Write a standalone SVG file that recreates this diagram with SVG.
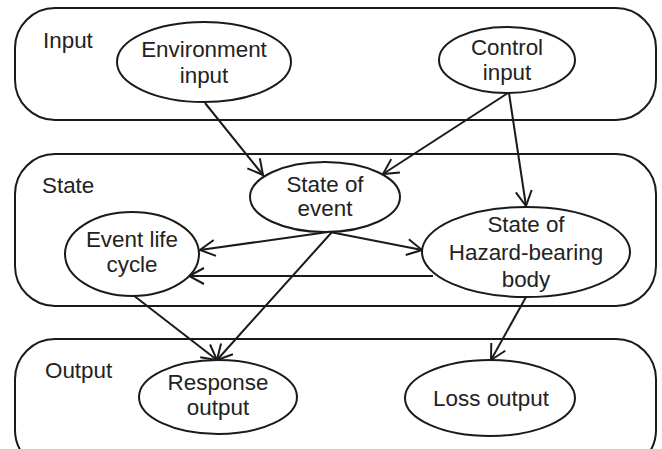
<svg xmlns="http://www.w3.org/2000/svg" width="662" height="449" viewBox="0 0 662 449">
<defs>
<style>
.box{fill:none;stroke:#1a1a1a;stroke-width:2}
.node{fill:#fff;stroke:#1a1a1a;stroke-width:2}
.t{font-family:"Liberation Sans",Arial,sans-serif;font-size:22.4px;fill:#222}
.c{text-anchor:middle}
.e{fill:none;stroke:#1a1a1a;stroke-width:2;marker-end:url(#arr)}
</style>
<marker id="arr" markerUnits="userSpaceOnUse" viewBox="-16 -9 18 18" markerWidth="18" markerHeight="18" refX="0" refY="0" orient="auto">
<path d="M-15,-8 L0,0 L-15,8" fill="none" stroke="#1a1a1a" stroke-width="2"/>
</marker>
</defs>
<rect width="662" height="449" fill="#fff"/>
<g id="input-group">
<rect class="box" x="15" y="8" width="641" height="112" rx="40" ry="40"/>
<text class="t" x="43" y="48">Input</text>
</g>
<g id="state-group">
<rect class="box" x="15" y="154" width="641" height="152" rx="40" ry="40"/>
<text class="t" x="42" y="193">State</text>
</g>
<g id="output-group">
<rect class="box" x="15" y="339" width="641" height="131" rx="40" ry="40"/>
<text class="t" x="45" y="378">Output</text>
</g>
<g id="connectors">
<line class="e" x1="205" y1="103" x2="263" y2="175"/>
<line class="e" x1="508" y1="93" x2="383" y2="174"/>
<line class="e" x1="509" y1="93" x2="526" y2="206"/>
<line class="e" x1="328" y1="232" x2="200" y2="250"/>
<line class="e" x1="330" y1="232" x2="422" y2="250"/>
<line class="e" x1="433" y1="276" x2="189" y2="276"/>
<line class="e" x1="332" y1="232" x2="217" y2="360"/>
<line class="e" x1="133" y1="295" x2="217" y2="360"/>
<line class="e" x1="526" y1="297" x2="491" y2="360"/>
</g>
<g id="environment-input">
<ellipse class="node" cx="204" cy="62" rx="87" ry="40"/>
<text class="t c" x="204" y="57">Environment</text>
<text class="t c" x="204" y="83">input</text>
</g>
<g id="control-input">
<ellipse class="node" cx="507" cy="60" rx="68" ry="33"/>
<text class="t c" x="507" y="55">Control</text>
<text class="t c" x="507" y="80">input</text>
</g>
<g id="state-of-event">
<ellipse class="node" cx="325" cy="197" rx="75" ry="35"/>
<text class="t c" x="325" y="192">State of</text>
<text class="t c" x="325" y="216">event</text>
</g>
<g id="event-life-cycle">
<ellipse class="node" cx="132" cy="254" rx="67" ry="42"/>
<text class="t c" x="132" y="247">Event life</text>
<text class="t c" x="132" y="272">cycle</text>
</g>
<g id="state-of-hazard-bearing-body">
<ellipse class="node" cx="526" cy="252" rx="104" ry="45"/>
<text class="t c" x="526" y="232">State of</text>
<text class="t c" x="526" y="260">Hazard-bearing</text>
<text class="t c" x="526" y="287">body</text>
</g>
<g id="response-output">
<ellipse class="node" cx="218" cy="397" rx="79" ry="37"/>
<text class="t c" x="218" y="390">Response</text>
<text class="t c" x="218" y="415">output</text>
</g>
<g id="loss-output">
<ellipse class="node" cx="490" cy="398" rx="85" ry="38"/>
<text class="t c" x="491" y="406">Loss output</text>
</g>
</svg>
